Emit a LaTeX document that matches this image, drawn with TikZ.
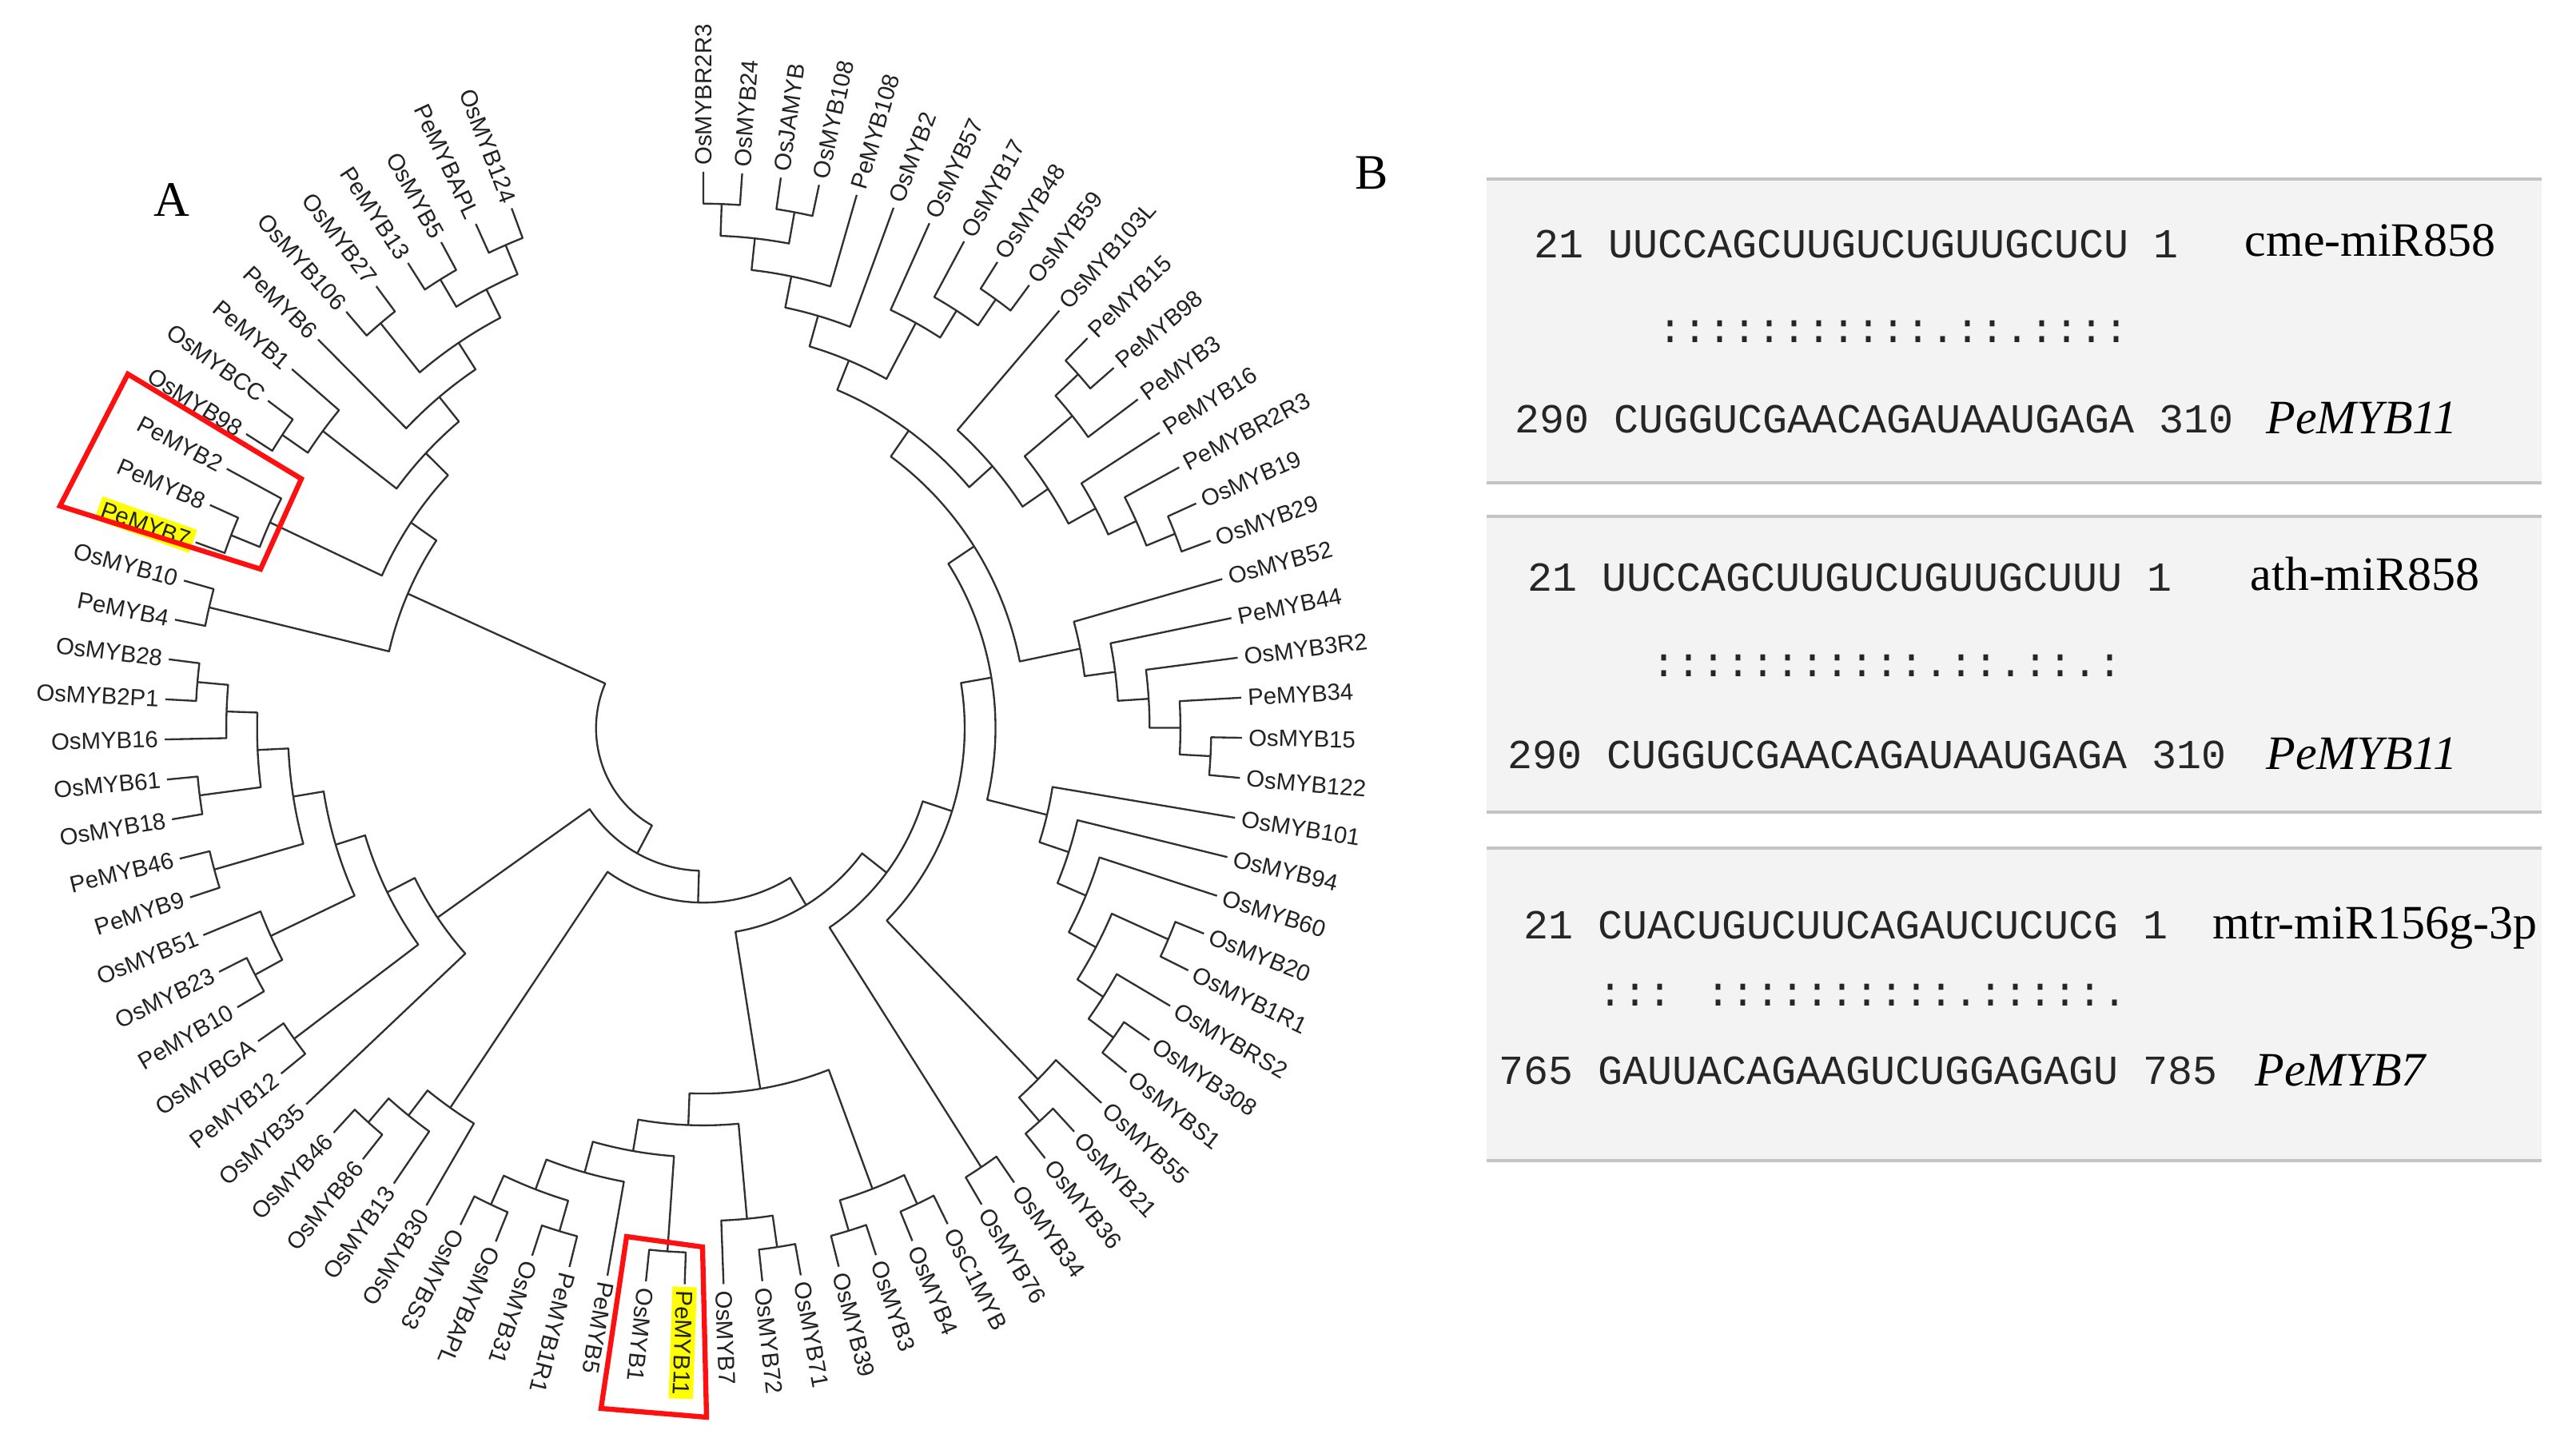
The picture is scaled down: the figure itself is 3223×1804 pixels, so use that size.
\documentclass[tikz,border=0pt]{standalone}
\usepackage{fontspec}
\setmainfont{Liberation Serif}
\newfontfamily\labfont{Liberation Sans}
\newfontfamily\seqfont{Liberation Mono}
\definecolor{treegray}{HTML}{303030}
\definecolor{labcol}{HTML}{222222}
\definecolor{boxfill}{HTML}{F3F3F3}
\definecolor{boxline}{HTML}{C4C4C4}
\definecolor{seqcol}{HTML}{262626}
\definecolor{hlyellow}{HTML}{FFFF00}
\definecolor{boxred}{HTML}{FF1010}
\newcommand\clade[4]{%
  \edef\cA{\csname ang#3\endcsname}%
  \edef\cB{\csname ang#4\endcsname}%
  \edef\rA{\csname rad#3\endcsname}%
  \edef\rB{\csname rad#4\endcsname}%
  \pgfmathsetmacro\rN{1-0.0572*#2}%
  \pgfmathsetmacro\aN{(\cA+\cB)/2}%
  \pgfmathsetmacro\rxN{202.2*\rN}%
  \pgfmathsetmacro\ryN{208.8*\rN}%
  \expandafter\xdef\csname ang#1\endcsname{\aN}%
  \expandafter\xdef\csname rad#1\endcsname{\rN}%
  \draw[branch] (\cA:\rA) -- (\cA:\rN) arc[start angle=\cA, end angle=\cB, x radius=\rxN pt, y radius=\ryN pt] -- (\cB:\rB);
}
\begin{document}
\begin{tikzpicture}[x=0.3pt,y=0.3pt,
  seq/.style={font=\seqfont\fontsize{15.5}{18}\selectfont, text=seqcol, inner sep=0pt},
  mir/.style={font=\fontsize{18}{20}\selectfont, inner sep=0pt},
  gene/.style={font=\itshape\fontsize{18}{20}\selectfont, inner sep=0pt},
  panel/.style={font=\fontsize{18.6}{21}\selectfont, inner sep=0pt},
  redbox/.style={draw=boxred, line width=1.9pt, line join=miter}]
\useasboundingbox (0,0) rectangle (3223,-1804);
\fill[white] (0,0) rectangle (3223,-1804);

% ---------------- Panel A: circular tree ----------------
\begin{scope}[shift={(264pt,-273.3pt)}, x={(202.2pt,0pt)}, y={(0pt,208.8pt)},
  branch/.style={draw=treegray, line width=0.7pt, line join=round},
  lab/.style={font=\labfont\fontsize{8.8}{10}\selectfont, text=labcol, inner sep=1.5pt}]
\foreach \k in {1,...,83} {%
  \pgfmathsetmacro\tmpa{90-(\k-1)*4.136}%
  \expandafter\xdef\csname angL\k\endcsname{\tmpa}%
  \expandafter\xdef\csname radL\k\endcsname{1}}
\clade{c8283}{1}{L82}{L83}
\clade{c8081}{1}{L80}{L81}
\clade{c8083}{2}{c8081}{c8283}
\clade{c7879}{1}{L78}{L79}
\clade{c7883}{3}{c7879}{c8083}
\clade{c7783}{4}{L77}{c7883}
\clade{c7475}{1}{L74}{L75}
\clade{c7476}{2}{c7475}{L76}
\clade{c7483}{5}{c7476}{c7783}
\clade{c7172}{1}{L71}{L72}
\clade{c7173}{2}{c7172}{L73}
\clade{c7183}{6}{c7173}{c7483}
\clade{c6970}{1}{L69}{L70}
\clade{N1}{7}{c6970}{c7183}
\clade{c12}{1}{L1}{L2}
\clade{c34}{1}{L3}{L4}
\clade{c14}{2}{c12}{c34}
\clade{c15}{3}{c14}{L5}
\clade{c16}{4}{c15}{L6}
\clade{c910}{1}{L9}{L10}
\clade{c810}{2}{L8}{c910}
\clade{c710}{3}{L7}{c810}
\clade{c110}{5}{c16}{c710}
\clade{c1213}{1}{L12}{L13}
\clade{c1214}{2}{c1213}{L14}
\clade{c1718}{1}{L17}{L18}
\clade{c1618}{2}{L16}{c1718}
\clade{c1518}{3}{L15}{c1618}
\clade{c1218}{4}{c1214}{c1518}
\clade{c1118}{5}{L11}{c1218}
\clade{c118}{6}{c110}{c1118}
\clade{c2324}{1}{L23}{L24}
\clade{c2224}{2}{L22}{c2324}
\clade{c2124}{3}{L21}{c2224}
\clade{c2024}{4}{L20}{c2124}
\clade{c1924}{5}{L19}{c2024}
\clade{c124}{7}{c118}{c1924}
\clade{c3132}{1}{L31}{L32}
\clade{c3032}{2}{L30}{c3132}
\clade{c2829}{1}{L28}{L29}
\clade{c2832}{3}{c2829}{c3032}
\clade{c2732}{4}{L27}{c2832}
\clade{c2632}{5}{L26}{c2732}
\clade{c2532}{6}{L25}{c2632}
\clade{c132}{8}{c124}{c2532}
\clade{c3435}{1}{L34}{L35}
\clade{c3335}{2}{L33}{c3435}
\clade{c135}{9}{c132}{c3335}
\clade{c3637}{1}{L36}{L37}
\clade{c137}{10}{c135}{c3637}
\clade{c3839}{1}{L38}{L39}
\clade{c4041}{1}{L40}{L41}
\clade{c3841}{2}{c3839}{c4041}
\clade{c4243}{1}{L42}{L43}
\clade{c4244}{2}{c4243}{L44}
\clade{c4546}{1}{L45}{L46}
\clade{c4849}{1}{L48}{L49}
\clade{c5051}{1}{L50}{L51}
\clade{c4851}{2}{c4849}{c5051}
\clade{c4751}{3}{L47}{c4851}
\clade{c4551}{4}{c4546}{c4751}
\clade{c4251}{5}{c4244}{c4551}
\clade{c3851}{6}{c3841}{c4251}
\clade{c151}{11}{c137}{c3851}
\clade{c5455}{1}{L54}{L55}
\clade{c5355}{2}{L53}{c5455}
\clade{c5255}{3}{L52}{c5355}
\clade{c155}{12}{c151}{c5255}
\clade{c5758}{1}{L57}{L58}
\clade{c5960}{1}{L59}{L60}
\clade{c5961}{2}{c5960}{L61}
\clade{c6263}{1}{L62}{L63}
\clade{c6465}{1}{L64}{L65}
\clade{c6768}{1}{L67}{L68}
\clade{c6668}{2}{L66}{c6768}
\clade{c6468}{3}{c6465}{c6668}
\clade{c6268}{4}{c6263}{c6468}
\clade{c5968}{5}{c5961}{c6268}
\clade{c5768}{6}{c5758}{c5968}
\clade{c5668}{7}{L56}{c5768}
\clade{c168}{13}{c155}{c5668}
\clade{root}{14}{c168}{N1}
% leaf labels
\foreach \k/\ltxt/\lfill in {
 1/OsMYBR2R3/none, 2/OsMYB24/none, 3/OsJAMYB/none, 4/OsMYB108/none, 5/PeMYB108/none,
 6/OsMYB2/none, 7/OsMYB57/none, 8/OsMYB17/none, 9/OsMYB48/none, 10/OsMYB59/none,
 11/OsMYB103L/none, 12/PeMYB15/none, 13/PeMYB98/none, 14/PeMYB3/none, 15/PeMYB16/none,
 16/PeMYBR2R3/none, 17/OsMYB19/none, 18/OsMYB29/none, 19/OsMYB52/none, 20/PeMYB44/none,
 21/OsMYB3R2/none, 22/PeMYB34/none, 23/OsMYB15/none, 24/OsMYB122/none, 25/OsMYB101/none,
 26/OsMYB94/none, 27/OsMYB60/none, 28/OsMYB20/none, 29/OsMYB1R1/none, 30/OsMYBRS2/none,
 31/OsMYB308/none, 32/OsMYBS1/none, 33/OsMYB55/none, 34/OsMYB21/none, 35/OsMYB36/none,
 36/OsMYB34/none, 37/OsMYB76/none, 38/OsC1MYB/none, 39/OsMYB4/none, 40/OsMYB3/none,
 41/OsMYB39/none, 42/OsMYB71/none, 43/OsMYB72/none, 44/OsMYB7/none, 45/PeMYB11/hlyellow,
 46/OsMYB1/none, 47/PeMYB5/none, 48/PeMYB1R1/none, 49/OsMYB31/none, 50/OsMYBAPL/none,
 51/OsMYBS3/none, 52/OsMYB30/none, 53/OsMYB13/none, 54/OsMYB86/none, 55/OsMYB46/none,
 56/OsMYB35/none, 57/PeMYB12/none, 58/OsMYBGA/none, 59/PeMYB10/none, 60/OsMYB23/none,
 61/OsMYB51/none, 62/PeMYB9/none, 63/PeMYB46/none, 64/OsMYB18/none, 65/OsMYB61/none,
 66/OsMYB16/none, 67/OsMYB2P1/none, 68/OsMYB28/none, 69/PeMYB4/none, 70/OsMYB10/none,
 71/PeMYB7/hlyellow, 72/PeMYB8/none, 73/PeMYB2/none, 74/OsMYB98/none, 75/OsMYBCC/none,
 76/PeMYB1/none, 77/PeMYB6/none, 78/OsMYB106/none, 79/OsMYB27/none, 80/PeMYB13/none,
 81/OsMYB5/none, 82/PeMYBAPL/none, 83/OsMYB124/none} {%
  \edef\lang{\csname angL\k\endcsname}%
  \ifnum\k<52
    \node[lab, fill=\lfill, rotate=\lang, anchor=west] (leaf\k) at (\lang:1.004) {\ltxt};
  \else
    \pgfmathsetmacro\lrot{\lang+180}%
    \node[lab, fill=\lfill, rotate=\lrot, anchor=east] (leaf\k) at (\lang:1.004) {\ltxt};
  \fi
}
\end{scope}

% red boxes
\draw[redbox] (160,-468) -- (377,-599) -- (326,-712) -- (75,-633) -- cycle;
\draw[redbox] (784,-1547) -- (879,-1560) -- (884,-1773) -- (752,-1762) -- cycle;

\node[panel] (lblA) at (215,-250) {A};
\node[panel] (lblB) at (1716,-216) {B};

% ---------------- Panel B ----------------
\foreach \yt/\yb in {224/604, 646/1016, 1061/1452} {
  \fill[boxfill] (1860,-\yt) rectangle (3180,-\yb);
  \draw[boxline, line width=1.3pt] (1860,-\yt) -- (3180,-\yt);
  \draw[boxline, line width=1.3pt] (1860,-\yb) -- (3180,-\yb);
}
% box 1
\node[seq, anchor=base west] (s1a) at (1919,-323) {21 UUCCAGCUUGUCUGUUGCUCU 1};
\node[seq, anchor=base west] (s1b) at (1919,-429) {\phantom{21 UU}:::::::::::.::.::::};
\node[seq, anchor=base west] (s1c) at (1895,-542) {290 CUGGUCGAACAGAUAAUGAGA 310};
\node[mir, anchor=base west] (m1) at (2808,-321) {cme-miR858};
\node[gene, anchor=base west] (g1) at (2835,-543) {PeMYB11};
% box 2
\node[seq, anchor=base west] (s2a) at (1911,-740) {21 UUCCAGCUUGUCUGUUGCUUU 1};
\node[seq, anchor=base west] (s2b) at (1911,-847) {\phantom{21 UU}:::::::::::.::.::.:};
\node[seq, anchor=base west] (s2c) at (1886,-962) {290 CUGGUCGAACAGAUAAUGAGA 310};
\node[mir, anchor=base west] (m2) at (2815,-739) {ath-miR858};
\node[gene, anchor=base west] (g2) at (2835,-963) {PeMYB11};
% box 3
\node[seq, anchor=base west] (s3a) at (1906,-1175) {21 CUACUGUCUUCAGAUCUCUCG 1};
\node[seq, anchor=base west] (s3b) at (1906,-1258) {\phantom{21 }::: ::::::::::.:::::.};
\node[seq, anchor=base west] (s3c) at (1875,-1357) {765 GAUUACAGAAGUCUGGAGAGU 785};
\node[mir, anchor=base west] (m3) at (2768,-1175) {mtr-miR156g-3p};
\node[gene, anchor=base west] (g3) at (2821,-1359) {PeMYB7};
\end{tikzpicture}
\end{document}
